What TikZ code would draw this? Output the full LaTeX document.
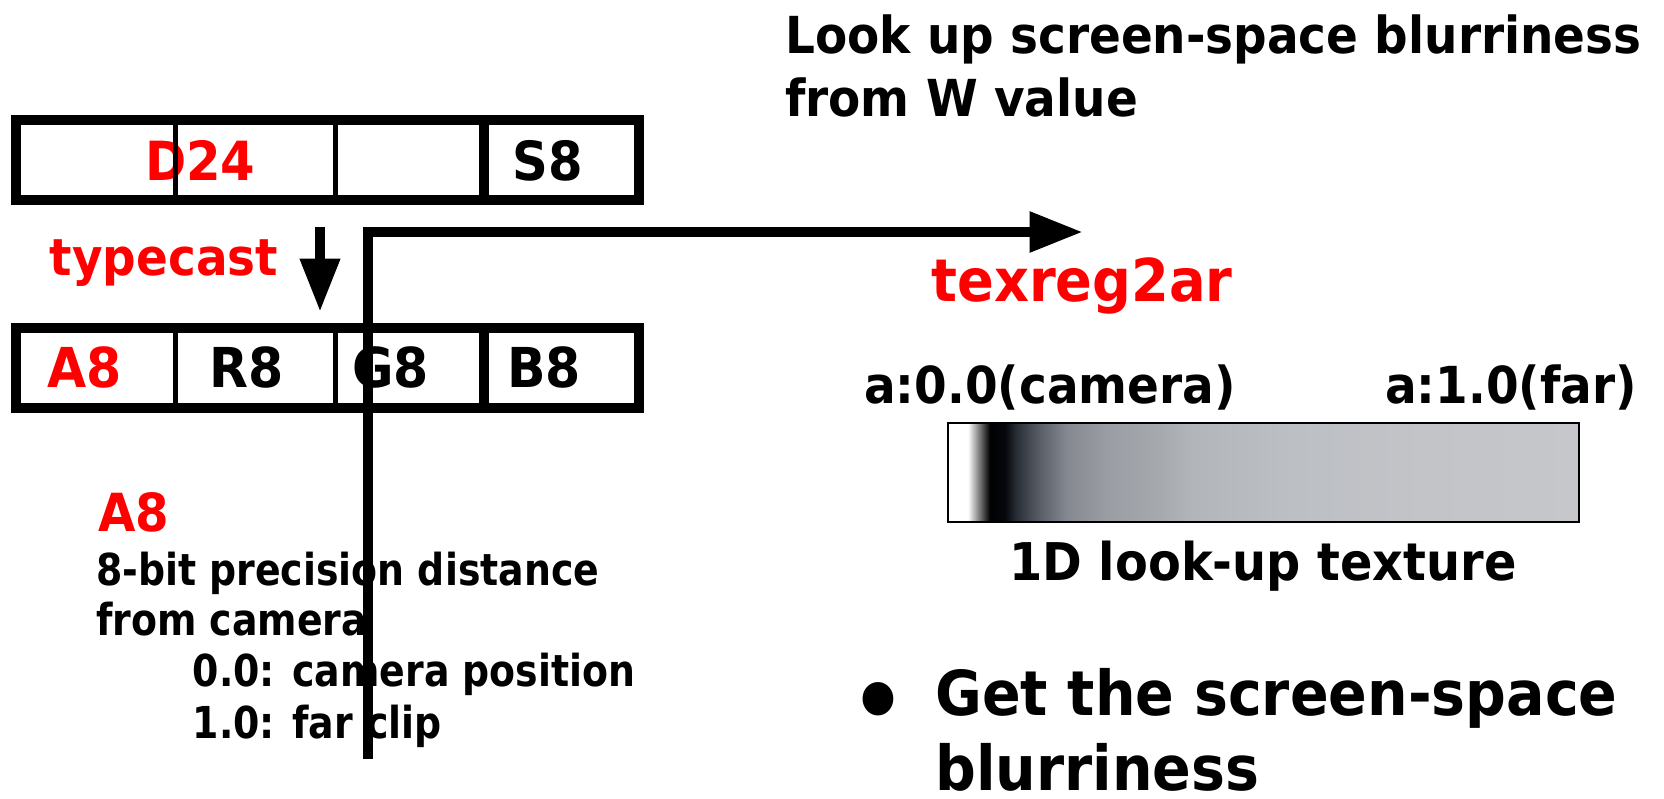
\documentclass[tikz,border=0pt]{standalone}
\usepackage{fontspec}
\newfontfamily\mainbold{DejaVu Sans Bold}[FakeStretch=0.92]
\newfontfamily\notebold{DejaVu Sans Bold}[FakeStretch=0.86]
\usetikzlibrary{arrows.meta}

\definecolor{lutA}{HTML}{05080C}
\definecolor{lutB}{HTML}{2A3038}
\definecolor{lutC}{HTML}{5A5F67}
\definecolor{lutD}{HTML}{858890}
\definecolor{lutE}{HTML}{9A9DA3}
\definecolor{lutF}{HTML}{A5A8AD}
\definecolor{lutG}{HTML}{B2B5BA}
\definecolor{lutH}{HTML}{BCBFC4}
\definecolor{lutI}{HTML}{C3C4C8}
\definecolor{lutJ}{HTML}{C6C7CB}
\pgfdeclarehorizontalshading{lut}{100bp}{color(0bp)=(white); color(26.56bp)=(white);
  color(28.3bp)=(black); color(29.5bp)=(lutA); color(30.45bp)=(lutB);
  color(32.27bp)=(lutC); color(34.4bp)=(lutD); color(37.58bp)=(lutE);
  color(41.55bp)=(lutF); color(44.4bp)=(lutG); color(52.3bp)=(lutH);
  color(62.95bp)=(lutI); color(75bp)=(lutJ); color(100bp)=(lutJ)}

\begin{document}
\begin{tikzpicture}[x=1pt, y=-1pt,
    bar/.style={draw=black, line width=10.3pt, minimum width=623pt,
        minimum height=80pt, inner sep=0pt},
    divider/.style={line width=5pt},
    thickdivider/.style={line width=10pt},
    field/.style={font=\mainbold\fontsize{55}{60}\selectfont, inner sep=0pt, anchor=base},
    note/.style={font=\notebold\fontsize{44}{50}\selectfont, inner sep=0pt, anchor=base west},
    head/.style={font=\mainbold\fontsize{51}{60}\selectfont, inner sep=0pt, anchor=base west},
    big/.style={font=\mainbold\fontsize{62}{75}\selectfont, inner sep=0pt, anchor=base west},
    flow/.style={line width=10pt, -{Triangle[length=53pt, width=38.5pt]}},
    cast/.style={line width=10pt, -{Triangle[length=53pt, width=38pt]}}
]
    \useasboundingbox (0,0) rectangle (1664,798);

    % depth/stencil format
    \node[bar] (dsbar) at (327.35,160) {};
    \node[field, red, font=\mainbold\fontsize{54}{60}\selectfont] (d24) at (200.3,180) {D24};
    \node[field, font=\mainbold\fontsize{54}{60}\selectfont] (s8) at (548,180) {S8};
    \draw[divider] (175.8,120) -- (175.8,200);
    \draw[divider] (335.8,120) -- (335.8,200);
    \draw[thickdivider] (484,120) -- (484,200);

    % colour format
    \node[bar] (argbbar) at (327.35,367.8) {};
    \node[field, red] (a8) at (84.5,387.7) {A8};
    \node[field] (r8) at (246.7,387.7) {R8};
    \node[field] (g8) at (390.8,387.7) {G8};
    \node[field] (b8) at (544,387.7) {B8};
    \draw[divider] (175.8,327.8) -- (175.8,407.8);
    \draw[divider] (335.8,327.8) -- (335.8,407.8);
    \draw[thickdivider] (484,327.8) -- (484,407.8);

    \node[field, red, font=\mainbold\fontsize{51}{60}\selectfont] (typecast) at (164,275.7) {typecast};
    \coordinate (castfrom) at (320,226.7);
    \coordinate (castto) at (320,311.7);
    \draw[cast] (castfrom) -- (castto);

    % a8 description
    \node[note, red, font=\mainbold\fontsize{52.5}{60}\selectfont] (a8note) at (98,531.7) {A8};
    \node[note] (desc1) at (96,585) {8-bit precision distance};
    \node[note] (desc2) at (96,635.7) {from camera};
    \node[note] (desc3) at (192.5,686.7) {0.0: camera position};
    \node[note] (desc4) at (192.5,738.3) {1.0: far clip};

    % texreg2ar path
    \coordinate (flowstart) at (368.3,759);
    \coordinate (flowbend) at (368.3,232);
    \coordinate (flowend) at (1082.7,232);
    \draw[flow] (flowstart) -- (flowbend) -- (flowend);
    \node[field, red, font=\mainbold\fontsize{59}{70}\selectfont] (texreg) at (1082,301.7) {texreg2ar};

    % look-up texture
    \node[head] (title1) at (785,53.3) {Look up screen-space blurriness};
    \node[head] (title2) at (785,116) {from W value};
    \node[head] (near) at (864,403.3) {a:0.0(camera)};
    \node[head, anchor=base east] (far) at (1637,403.3) {a:1.0(far)};
    \node[shade, shading=lut, draw=black, line width=1.8pt, minimum width=630.7pt,
        minimum height=99pt, inner sep=0pt] (lut) at (1263.6,472.2) {};
    \node[field, font=\mainbold\fontsize{52}{60}\selectfont] (lutname) at (1263,580) {1D look-up texture};

    % bullet
    \node[font=\mainbold\fontsize{95}{95}\selectfont, inner sep=0pt] (dot) at (878,709) {•};
    \node[big] (get1) at (935,715) {Get the screen-space};
    \node[big] (get2) at (935,790.7) {blurriness};
\end{tikzpicture}
\end{document}
